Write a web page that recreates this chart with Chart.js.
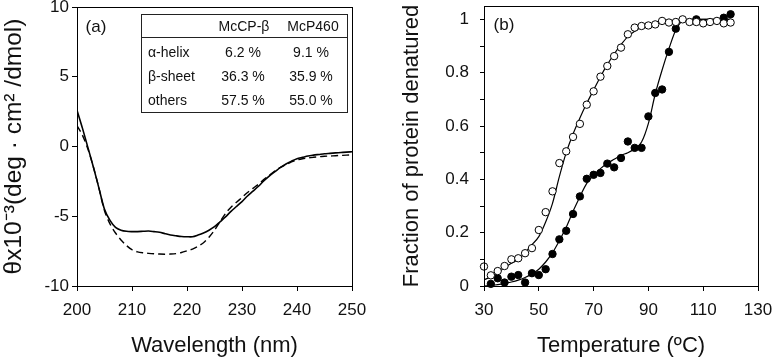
<!DOCTYPE html>
<html><head><meta charset="utf-8">
<script src="https://cdn.jsdelivr.net/npm/chart.js@4.4.0/dist/chart.umd.min.js"></script>
<style>
html,body{margin:0;padding:0;background:#fff;}
#wrap{position:relative;width:774px;height:361px;overflow:hidden;font-family:'Liberation Sans',Arial,sans-serif;color:#111;}
canvas{position:absolute;top:0;}
#ca{left:0;} #cb{left:387px;}
.t{position:absolute;white-space:nowrap;transform:translate(-50%,-50%);font-size:14px;line-height:1;}
.l{position:absolute;white-space:nowrap;transform:translate(0,-50%);font-size:14px;line-height:1;}
.p{position:absolute;white-space:nowrap;transform:translate(-50%,-50%);font-size:17px;line-height:1;}
#box{position:absolute;left:141px;top:14px;width:207px;height:99px;border:1px solid #222;box-sizing:border-box;}
#sep{position:absolute;left:141px;top:37px;width:207px;height:0;border-top:1px solid #222;}
</style></head>
<body>
<div id="wrap">
<canvas id="ca" width="387" height="361"></canvas>
<canvas id="cb" width="387" height="361"></canvas>
<div id="box"></div><div id="sep"></div>
<div class="t" style="left:244px;top:26px">McCP-β</div>
<div class="t" style="left:313px;top:26px">McP460</div>
<div class="l" style="left:148px;top:52px">α-helix</div>
<div class="l" style="left:148px;top:76px">β-sheet</div>
<div class="l" style="left:148px;top:100px">others</div>
<div class="t" style="left:243px;top:52px">6.2 %</div>
<div class="t" style="left:311px;top:52px">9.1 %</div>
<div class="t" style="left:243px;top:76px">36.3 %</div>
<div class="t" style="left:311px;top:76px">35.9 %</div>
<div class="t" style="left:243px;top:100px">57.5 %</div>
<div class="t" style="left:311px;top:100px">55.0 %</div>
<div class="p" style="left:96px;top:26px">(a)</div>
<div class="p" style="left:504px;top:24px">(b)</div>
</div>
<script>
// ---- Panel (a): CD spectra ----
const wavelength = [200,201,202,203,204,205,206,207,208,209,210,211,212,213,214,215,216,217,218,219,220,221,222,223,224,225,226,227,228,229,230,231,232,233,234,235,236,237,238,239,240,241,242,243,244,245,246,247,248,249,250];
const cdSolid = [2.6,1.3,-0.1,-1.5,-3.0,-4.5,-5.3,-5.8,-6.0,-6.08,-6.1,-6.1,-6.08,-6.06,-6.1,-6.15,-6.25,-6.34,-6.4,-6.45,-6.47,-6.47,-6.35,-6.2,-6.0,-5.75,-5.4,-5.05,-4.65,-4.3,-3.95,-3.55,-3.2,-2.85,-2.45,-2.1,-1.8,-1.5,-1.25,-1.05,-0.88,-0.78,-0.68,-0.62,-0.57,-0.52,-0.49,-0.46,-0.43,-0.4,-0.38];
const cdDashed = [1.5,0.8,-0.2,-1.5,-3.0,-4.6,-5.55,-6.2,-6.7,-7.1,-7.4,-7.55,-7.62,-7.66,-7.69,-7.71,-7.72,-7.71,-7.68,-7.6,-7.48,-7.35,-7.15,-6.9,-6.5,-6.0,-5.4,-4.8,-4.35,-4.0,-3.65,-3.3,-3.0,-2.7,-2.35,-2.05,-1.75,-1.5,-1.3,-1.1,-0.97,-0.88,-0.82,-0.77,-0.73,-0.7,-0.68,-0.66,-0.64,-0.62,-0.61];

// ---- Panel (b): thermal denaturation ----
const tempOpen = [30,32.5,35,37.5,40,42.5,45,47.5,50,52.5,55,57.5,60,62.5,65,67.5,70,72.5,75,77.5,80,82.5,85,87.5,90,92.5,95,97.5,100,102.5,105,107.5,110,112.5,115,117.5,120];
const fracOpen = [0.073,0.04,0.056,0.075,0.10,0.104,0.123,0.142,0.21,0.277,0.355,0.461,0.505,0.559,0.608,0.68,0.73,0.785,0.825,0.862,0.894,0.944,0.969,0.975,0.977,0.981,0.994,0.988,0.99,1.0,0.99,0.99,0.985,0.99,0.994,0.985,0.988];
const tempFilled = [32.5,35,37.5,40,42.5,45,47.5,50,52.5,55,57.5,60,62.5,65,67.5,70,72.5,75,77.5,80,82.5,85,87.5,90,92.5,95,97.5,100,107.5,117.5,120];
const fracFilled = [0.008,0.029,0.013,0.035,0.041,0.013,0.048,0.041,0.063,0.12,0.175,0.207,0.27,0.336,0.402,0.417,0.424,0.459,0.445,0.48,0.542,0.518,0.518,0.636,0.724,0.737,0.878,0.965,1.0,1.006,1.019];
const fitTemp = [30,32.5,35,37.5,40,42.5,45,47.5,50,52.5,55,57.5,60,62.5,65,67.5,70,72.5,75,77.5,80,82.5,85,87.5,90,92.5,95,97.5,100,102.5,105,110,120];
const fitOpen = [0.023,0.035,0.05,0.068,0.085,0.1,0.125,0.155,0.185,0.24,0.31,0.41,0.5,0.57,0.63,0.685,0.735,0.785,0.83,0.87,0.905,0.935,0.955,0.97,0.98,0.986,0.99,0.993,0.995,0.997,0.998,1.0,1.0];
const fitFilled = [0.0,0.002,0.005,0.01,0.015,0.022,0.032,0.045,0.063,0.09,0.125,0.17,0.22,0.28,0.335,0.385,0.415,0.44,0.46,0.475,0.49,0.5,0.515,0.54,0.61,0.72,0.81,0.89,0.96,0.995,1.0,1.0,1.0];

const FONT = "'Liberation Sans', Arial, sans-serif";
const pts = (xs, ys) => xs.map((x, i) => ({x, y: ys[i]}));

const frame = {
  id: 'frame',
  afterDraw(chart) {
    const {ctx, chartArea: a} = chart;
    ctx.save();
    ctx.strokeStyle = '#000';
    ctx.lineWidth = 1;
    ctx.strokeRect(Math.round(a.left) + 0.5, Math.round(a.top) + 0.5, Math.round(a.right - a.left), Math.round(a.bottom - a.top));
    ctx.restore();
  }
};

function axis(extra) {
  return Object.assign({
    type: 'linear',
    grid: {display: true, drawOnChartArea: false, drawTicks: true, tickLength: 5, color: '#000', lineWidth: 1},
    border: {display: false},
  }, extra);
}
function fitY(w) { return function (s) { s.width = w; s.paddingTop = 0; s.paddingBottom = 0; }; }
function fitX(h) { return function (s) { s.height = h; s.paddingLeft = 0; s.paddingRight = 0; }; }

Chart.defaults.font.family = FONT;
Chart.defaults.color = '#111';

new Chart(document.getElementById('ca'), {
  type: 'line',
  data: {
    datasets: [
      {data: pts(wavelength, cdSolid), borderColor: '#000', borderWidth: 1.6, pointRadius: 0, tension: 0.3, fill: false},
      {data: pts(wavelength, cdDashed), borderColor: '#000', borderWidth: 1.4, borderDash: [7, 4], pointRadius: 0, tension: 0.3, fill: false}
    ]
  },
  options: {
    responsive: false, animation: false, devicePixelRatio: 1,
    layout: {padding: {left: 0, top: 7, right: 35, bottom: 0}},
    plugins: {legend: {display: false}, tooltip: {enabled: false}},
    scales: {
      x: axis({min: 200, max: 250, ticks: {stepSize: 10, font: {size: 17}, color: '#111', padding: 9, maxRotation: 0},
        title: {display: true, text: 'Wavelength (nm)', font: {size: 22}, color: '#111', padding: {top: 0, bottom: 2}},
        afterFit: fitX(75)}),
      y: axis({min: -10, max: 10, ticks: {stepSize: 5, font: {size: 17}, color: '#111', padding: 3},
        title: {display: true, text: 'θx10⁻³(deg · cm² /dmol)', font: {size: 24.5}, color: '#111', padding: {top: 0, bottom: 0}},
        afterFit: fitY(77)})
    }
  },
  plugins: [frame]
});

new Chart(document.getElementById('cb'), {
  type: 'line',
  data: {
    datasets: [
      {data: pts(tempOpen, fracOpen), showLine: false, pointRadius: 3.7, pointBackgroundColor: '#fff', pointBorderColor: '#000', pointBorderWidth: 1, clip: false, order: 0},
      {data: pts(tempFilled, fracFilled), showLine: false, pointRadius: 3.7, pointBackgroundColor: '#000', pointBorderColor: '#000', pointBorderWidth: 1, clip: false, order: 1},
      {data: pts(fitTemp, fitOpen), borderColor: '#000', borderWidth: 1.2, pointRadius: 0, cubicInterpolationMode: 'monotone', fill: false, order: 2},
      {data: pts(fitTemp, fitFilled), borderColor: '#000', borderWidth: 1.2, pointRadius: 0, cubicInterpolationMode: 'monotone', fill: false, order: 3}
    ]
  },
  options: {
    responsive: false, animation: false, devicePixelRatio: 1,
    layout: {padding: {left: 0, top: 6, right: 16, bottom: 0}},
    plugins: {legend: {display: false}, tooltip: {enabled: false}},
    scales: {
      x: axis({min: 30, max: 130, ticks: {stepSize: 20, font: {size: 17}, color: '#111', padding: 9, maxRotation: 0},
        title: {display: true, text: 'Temperature (ºC)', font: {size: 22}, color: '#111', padding: {top: 0, bottom: 2}},
        afterFit: fitX(75)}),
      y: axis({min: 0, max: 1.05, ticks: {stepSize: 0.1, includeBounds: false, autoSkip: false, font: {size: 17}, color: '#111', padding: 11,
          callback(v) { const k = Math.round(v * 10); if (k % 2 !== 0) return ''; return k === 0 ? '0' : (k === 10 ? '1' : (k / 10).toString()); }},
        grid: {display: true, drawOnChartArea: false, drawTicks: true, tickLength: 4, color: '#000', lineWidth: 1},
        title: {display: true, text: 'Fraction of protein denatured', font: {size: 22}, color: '#111', padding: {top: 12, bottom: 0}},
        afterFit: fitY(97)})
    }
  },
  plugins: [frame]
});
</script>
</body></html>
